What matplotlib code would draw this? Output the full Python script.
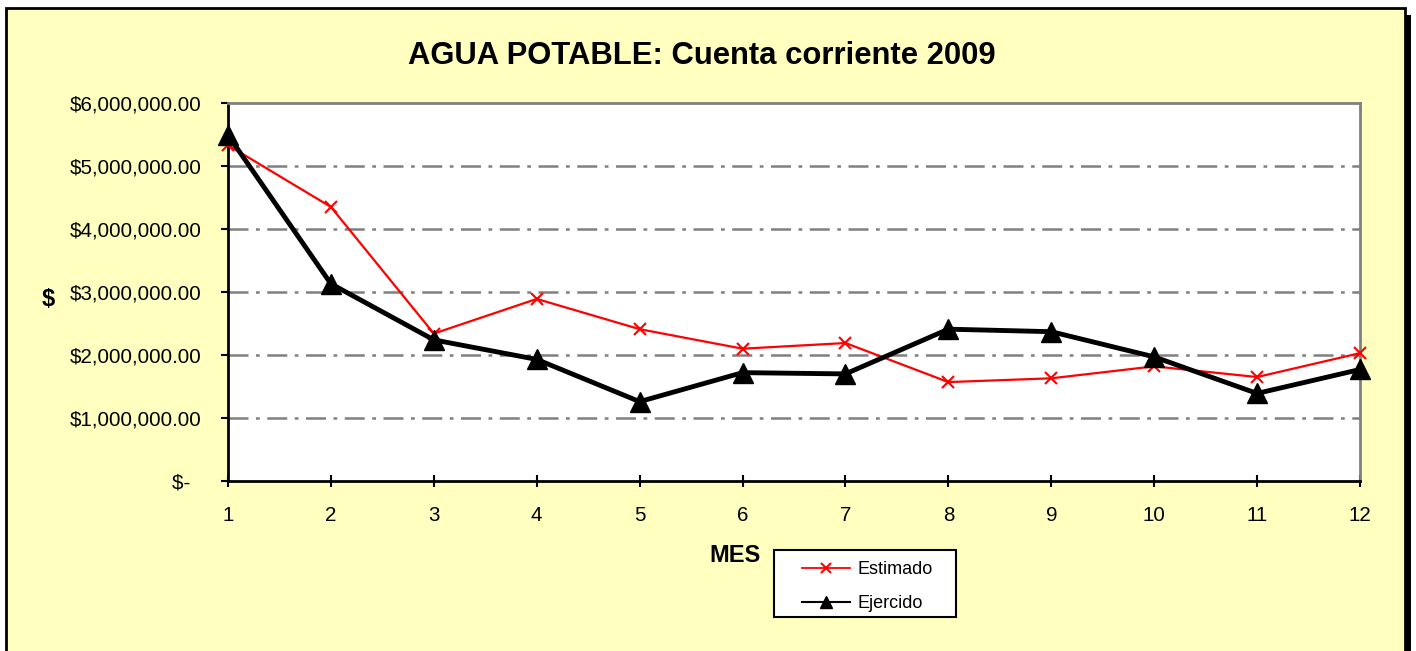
import matplotlib
matplotlib.use("Agg")
import matplotlib.pyplot as plt
from matplotlib.patches import Rectangle

meses = [1, 2, 3, 4, 5, 6, 7, 8, 9, 10, 11, 12]
estimado = [5330000, 4350000, 2340000, 2890000, 2410000, 2100000, 2190000,
            1570000, 1630000, 1820000, 1650000, 2030000]
ejercido = [5490000, 3130000, 2240000, 1930000, 1260000, 1720000, 1700000,
            2410000, 2370000, 1970000, 1390000, 1770000]
yticks = [0, 1000000, 2000000, 3000000, 4000000, 5000000, 6000000]
ytick_labels = ["$-  ", "$1,000,000.00", "$2,000,000.00", "$3,000,000.00",
                "$4,000,000.00", "$5,000,000.00", "$6,000,000.00"]

plt.rcParams['font.family'] = ['Liberation Sans', 'DejaVu Sans']

W, H = 1416, 651
fig = plt.figure(figsize=(W / 100, H / 100), dpi=100)
fig.patch.set_facecolor('white')

# chart area background with border and shadow
fig.patches.append(Rectangle((1404 / W, 0), 7 / W, 1 - 15 / H, transform=fig.transFigure,
                             facecolor='black', edgecolor='none', zorder=0))
fig.patches.append(Rectangle((6 / W, -0.01), (1405 - 6) / W, 1 - 8 / H + 0.01,
                             transform=fig.transFigure, facecolor='#FFFFC0',
                             edgecolor='black', linewidth=2, zorder=0))
# legend frame
fig.patches.append(Rectangle((774 / W, 1 - 617 / H), (956 - 774) / W, (617 - 550) / H,
                             transform=fig.transFigure, facecolor='white',
                             edgecolor='black', linewidth=1.5, zorder=1))

ax = fig.add_axes([228 / W, 1 - 481 / H, (1360 - 228) / W, (481 - 103) / H])
ax.set_zorder(5)
ax.set_facecolor('white')

ax.set_xlim(1, 12)
ax.set_ylim(0, 6000000)
ax.set_xticks(meses)
ax.set_xticklabels([str(m) for m in meses], fontsize=14.8)
ax.set_yticks(yticks)
ax.set_yticklabels(ytick_labels, fontsize=14.8)

for y in yticks[1:6]:
    ax.axhline(y, color='#808080', linewidth=1.8, linestyle=(0, (8, 3, 1.5, 3)), zorder=1)

ax.plot(meses, estimado, color='#FF0000', linewidth=1.6, marker='x', markersize=9,
        markeredgewidth=1.5, zorder=3, clip_on=False, label='Estimado')
ax.plot(meses, ejercido, color='black', linewidth=3.5, marker='^', markersize=14,
        zorder=4, clip_on=False, label='Ejercido')

for s in ['left', 'bottom']:
    ax.spines[s].set_color('black')
    ax.spines[s].set_linewidth(2)
for s in ['top', 'right']:
    ax.spines[s].set_color('#808080')
    ax.spines[s].set_linewidth(2)

ax.tick_params(axis='y', direction='out', length=5, width=1.5, pad=14, colors='black')
ax.tick_params(axis='x', direction='inout', length=8.6, width=1.5, pad=14, colors='black')

fig.text(702 / W, 1 - 56 / H, "AGUA POTABLE: Cuenta corriente 2009", ha='center',
         va='center', fontsize=22.3, fontweight='bold')
fig.text(48 / W, 1 - 300 / H, "$", ha='center', va='center', fontsize=17,
         fontweight='bold')
fig.text(735 / W, 1 - 555 / H, "MES", ha='center', va='center', fontsize=17,
         fontweight='bold')

leg = fig.legend(loc='upper left', bbox_to_anchor=(802 / W, 1 - 561 / H), fontsize=13,
                 frameon=False, handlelength=2.66, borderpad=0, labelspacing=0.95,
                 handletextpad=0.4, borderaxespad=0)
leg.set_zorder(6)
for h in leg.legend_handles:
    if h.get_label() == 'Ejercido':
        h.set_linewidth(1.5)
        h.set_markersize(8)
    else:
        h.set_markersize(7)
        h.set_linewidth(1.3)

fig.savefig('out.png', dpi=100)
